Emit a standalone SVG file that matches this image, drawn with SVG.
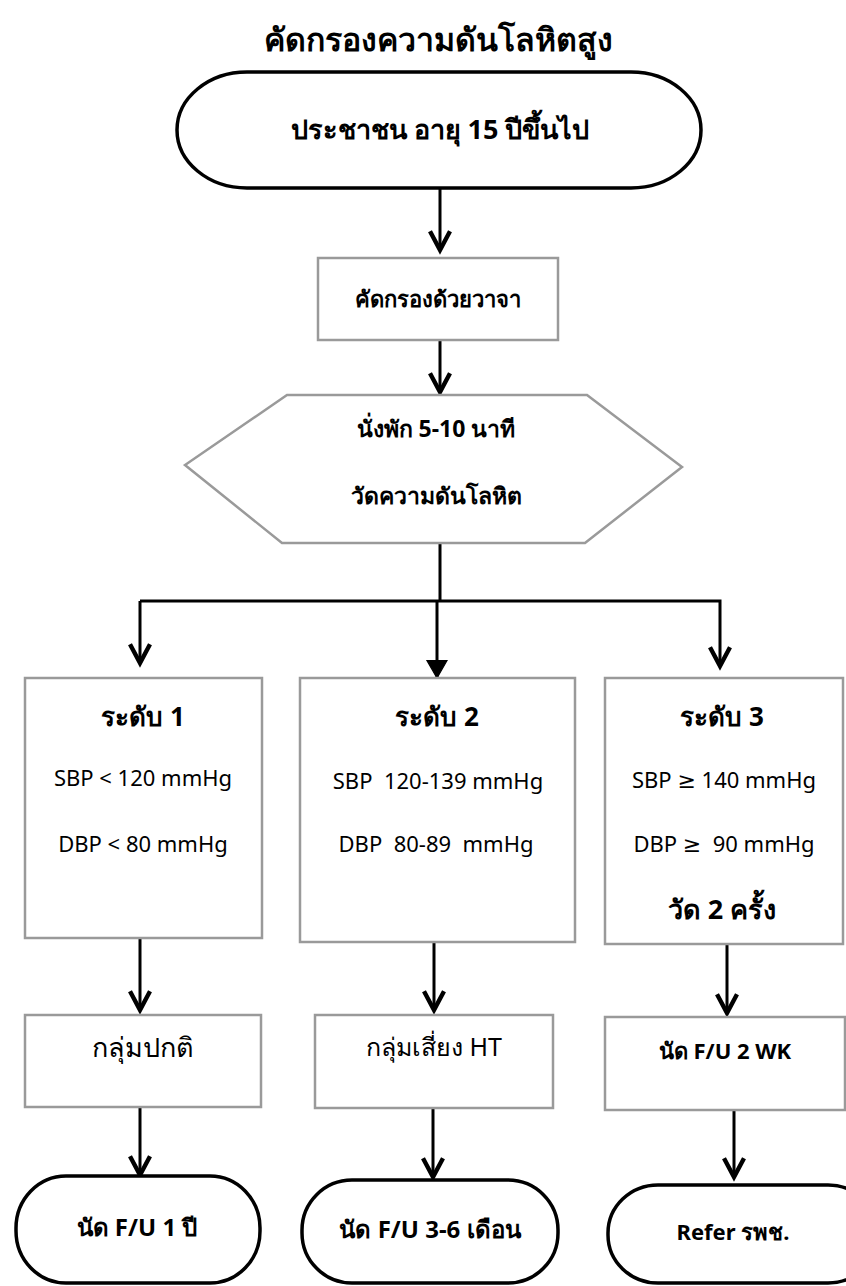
<svg xmlns="http://www.w3.org/2000/svg" width="846" height="1286" viewBox="0 0 846 1286">
<defs>
<style>
text{font-family:"Noto Sans","DejaVu Sans",sans-serif;fill:#000;text-anchor:middle;dominant-baseline:central}
.t{font-size:32px;font-weight:bold}
.b{font-size:23px;font-weight:bold}
.n{font-size:22px}
.term{fill:#fff;stroke:#000;stroke-width:3.5}
.box{fill:#fff;stroke:#9a9a9a;stroke-width:2.5}
.c{fill:none;stroke:#000;stroke-width:3}
</style>
<marker id="v" markerUnits="userSpaceOnUse" markerWidth="30" markerHeight="30" refX="0" refY="0" viewBox="-16 -12 20 24" orient="auto" overflow="visible">
<path d="M-15,-8 L0,0 L-15,8" fill="none" stroke="#000" stroke-width="3.5" stroke-linejoin="miter"/>
</marker>
<marker id="f" markerUnits="userSpaceOnUse" markerWidth="30" markerHeight="30" refX="0" refY="0" viewBox="-16 -12 20 24" orient="auto" overflow="visible">
<path d="M-14,-8 L0,0 L-14,8 Z" fill="#000" stroke="#000" stroke-width="1"/>
</marker>
</defs>
<rect width="846" height="1286" fill="#fff"/>
<text class="t" x="438" y="38">คัดกรองความดันโลหิตสูง</text>

<g id="connectors">
<line class="c" x1="440" y1="188" x2="440" y2="250" marker-end="url(#v)"/>
<line class="c" x1="440" y1="340" x2="440" y2="392" marker-end="url(#v)"/>
<polyline class="c" points="440,543 440,601"/>
<polyline class="c" points="140,601 720,601 720,666" marker-end="url(#v)"/>
<line class="c" x1="140" y1="601" x2="140" y2="663" marker-end="url(#v)"/>
<line class="c" x1="437" y1="601" x2="437" y2="678" marker-end="url(#f)"/>
<line class="c" x1="140" y1="938" x2="140" y2="1010" marker-end="url(#v)"/>
<line class="c" x1="434" y1="943" x2="434" y2="1010" marker-end="url(#v)"/>
<line class="c" x1="727" y1="945" x2="727" y2="1013" marker-end="url(#v)"/>
<line class="c" x1="140" y1="1107" x2="140" y2="1175" marker-end="url(#v)"/>
<line class="c" x1="433" y1="1108" x2="433" y2="1177" marker-end="url(#v)"/>
<line class="c" x1="734" y1="1110" x2="734" y2="1177" marker-end="url(#v)"/>
</g>

<g id="start">
<rect class="term" x="177" y="72" width="524" height="116" rx="70" ry="58"/>
<text class="b" x="440" y="128" style="font-size:27px">ประชาชน อายุ 15 ปีขึ้นไป</text>
</g>

<g id="verbal">
<rect class="box" x="318" y="258" width="240" height="82"/>
<text class="b" x="438" y="298" style="font-size:22px">คัดกรองด้วยวาจา</text>
</g>

<g id="measure">
<polygon class="box" points="287,395 587,395 682,467 585,543 282,543 185,465"/>
<text class="b" x="436" y="428">นั่งพัก 5-10 นาที</text>
<text class="b" x="436" y="495">วัดความดันโลหิต</text>
</g>

<g id="level1">
<rect class="box" x="25" y="678" width="237" height="260"/>
<text class="b" x="143" y="716" style="font-size:26px">ระดับ 1</text>
<text class="n" x="143" y="777">SBP &lt; 120 mmHg</text>
<text class="n" x="143" y="843">DBP &lt; 80 mmHg</text>
</g>

<g id="level2">
<rect class="box" x="300" y="678" width="275" height="264"/>
<text class="b" x="437" y="716" style="font-size:26px">ระดับ 2</text>
<text class="n" x="438" y="780" xml:space="preserve">SBP  120-139 mmHg</text>
<text class="n" x="436" y="843" xml:space="preserve">DBP  80-89  mmHg</text>
</g>

<g id="level3">
<rect class="box" x="605" y="678" width="238" height="266"/>
<text class="b" x="722" y="716" style="font-size:26px">ระดับ 3</text>
<text class="n" x="724" y="779">SBP ≥ 140 mmHg</text>
<text class="n" x="724" y="843" xml:space="preserve">DBP ≥  90 mmHg</text>
<text class="b" x="722" y="908" style="font-size:27px">วัด 2 ครั้ง</text>
</g>

<g id="normal">
<rect class="box" x="25" y="1015" width="236" height="92"/>
<text class="n" x="143" y="1046" style="font-size:27px">กลุ่มปกติ</text>
</g>

<g id="risk">
<rect class="box" x="315" y="1015" width="238" height="93"/>
<text class="n" x="434" y="1046" style="font-size:25px">กลุ่มเสี่ยง HT</text>
</g>

<g id="fu2wk">
<rect class="box" x="605" y="1017" width="240" height="93"/>
<text class="b" x="725" y="1050" style="font-size:22px">นัด F/U 2 WK</text>
</g>

<g id="fu1y">
<rect class="term" x="16" y="1176" width="244" height="107" rx="50" ry="52"/>
<text class="b" x="137" y="1226" style="font-size:24px">นัด F/U 1 ปี</text>
</g>

<g id="fu36m">
<rect class="term" x="302" y="1180" width="256" height="103" rx="50" ry="50"/>
<text class="b" x="430" y="1228" style="font-size:24px">นัด F/U 3-6 เดือน</text>
</g>

<g id="refer">
<rect class="term" x="608" y="1185" width="270" height="98" rx="50" ry="48"/>
<text class="b" x="733" y="1231" style="font-size:22px">Refer รพช.</text>
</g>
</svg>
